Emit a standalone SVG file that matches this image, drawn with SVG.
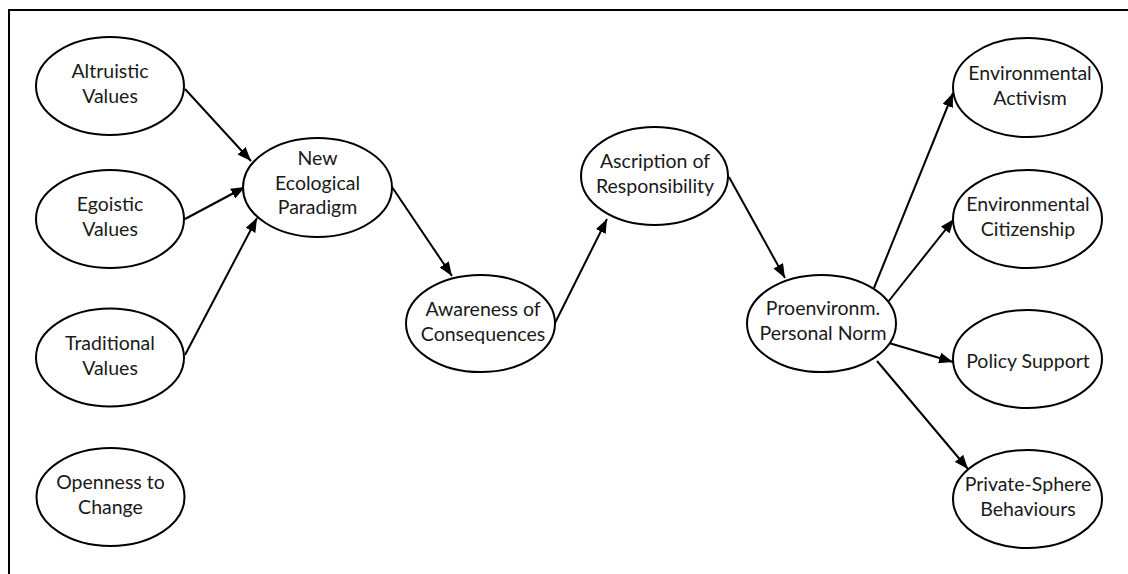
<svg xmlns="http://www.w3.org/2000/svg" width="1128" height="574" viewBox="0 0 1128 574">
  <defs>
    <marker id="arrow" viewBox="0 0 14 11" refX="14" refY="5.5" markerWidth="14" markerHeight="11" markerUnits="userSpaceOnUse" orient="auto">
      <path d="M0,0 L14,5.5 L0,11 Z" fill="#000"/>
    </marker>
    <style>
      .node ellipse { fill: #fff; stroke: #000; stroke-width: 2; }
      .node text { font-family: "Lato", "Liberation Sans", sans-serif; font-size: 19.5px; fill: #1a1a1a; text-anchor: middle; }
      .edges line { stroke: #000; stroke-width: 2; marker-end: url(#arrow); }
      .frame { fill: none; stroke: #000; stroke-width: 2; }
    </style>
  </defs>
  <rect width="1128" height="574" fill="#fff"/>
  <!-- open frame: left and top edges only -->
  <path class="frame" d="M9,574 V10 H1128"/>

  <g class="edges">
    <line x1="185" y1="89" x2="251" y2="161"/>
    <line x1="185" y1="219" x2="245" y2="187"/>
    <line x1="185" y1="355" x2="257" y2="218"/>
    <line x1="392" y1="187" x2="452" y2="276"/>
    <line x1="555" y1="323" x2="607" y2="219"/>
    <line x1="729" y1="177" x2="785" y2="278"/>
    <line x1="874" y1="288" x2="953" y2="93"/>
    <line x1="888" y1="302" x2="954" y2="219"/>
    <line x1="889" y1="343" x2="953" y2="362"/>
    <line x1="877" y1="361" x2="968" y2="469"/>
  </g>

  <g id="altruistic" class="node">
    <ellipse cx="110" cy="86" rx="74" ry="49"/>
    <text x="110" y="78">Altruistic</text>
    <text x="110" y="103">Values</text>
  </g>
  <g id="egoistic" class="node">
    <ellipse cx="110" cy="219" rx="74" ry="49"/>
    <text x="110" y="211">Egoistic</text>
    <text x="110" y="236">Values</text>
  </g>
  <g id="traditional" class="node">
    <ellipse cx="110" cy="357.5" rx="74" ry="49"/>
    <text x="110" y="350">Traditional</text>
    <text x="110" y="375">Values</text>
  </g>
  <g id="openness" class="node">
    <ellipse cx="110.5" cy="497" rx="74" ry="49"/>
    <text x="110.5" y="489">Openness to</text>
    <text x="110.5" y="514">Change</text>
  </g>
  <g id="nep" class="node">
    <ellipse cx="317.5" cy="187.5" rx="74.5" ry="49.5"/>
    <text x="317.5" y="165">New</text>
    <text x="317.5" y="190">Ecological</text>
    <text x="317.5" y="214">Paradigm</text>
  </g>
  <g id="awareness" class="node">
    <ellipse cx="480.5" cy="323.5" rx="74.5" ry="48.5"/>
    <text x="483" y="316">Awareness of</text>
    <text x="483" y="341">Consequences</text>
  </g>
  <g id="ascription" class="node">
    <ellipse cx="654.5" cy="176" rx="73.5" ry="49"/>
    <text x="655" y="168">Ascription of</text>
    <text x="655" y="193">Responsibility</text>
  </g>
  <g id="norm" class="node">
    <ellipse cx="821.5" cy="323.5" rx="74.5" ry="48.5"/>
    <text x="823" y="315">Proenvironm.</text>
    <text x="823" y="340">Personal Norm</text>
  </g>
  <g id="activism" class="node">
    <ellipse cx="1027.5" cy="87.5" rx="74.5" ry="49.5"/>
    <text x="1030" y="80">Environmental</text>
    <text x="1030" y="105">Activism</text>
  </g>
  <g id="citizenship" class="node">
    <ellipse cx="1027.5" cy="219" rx="74.5" ry="49"/>
    <text x="1028" y="211">Environmental</text>
    <text x="1028" y="236">Citizenship</text>
  </g>
  <g id="policy" class="node">
    <ellipse cx="1027.5" cy="359" rx="74.5" ry="49"/>
    <text x="1028" y="368">Policy Support</text>
  </g>
  <g id="private" class="node">
    <ellipse cx="1027.5" cy="499" rx="74.5" ry="49"/>
    <text x="1028" y="491">Private-Sphere</text>
    <text x="1028" y="516">Behaviours</text>
  </g>
</svg>
